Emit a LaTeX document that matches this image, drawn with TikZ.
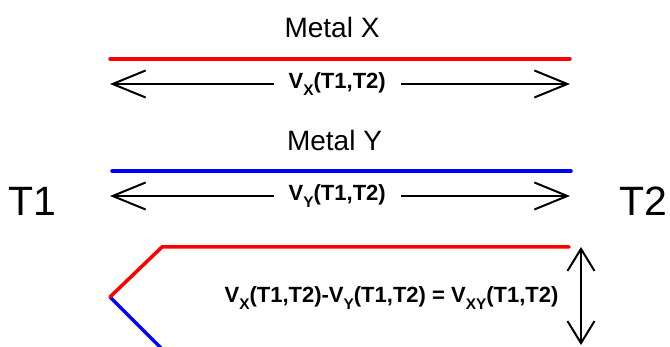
\documentclass[tikz,border=0pt]{standalone}
\usepackage{fontspec}
\setmainfont{Liberation Sans}
\usetikzlibrary{arrows.meta}
\newcommand{\sbx}[1]{\raisebox{-0.28em}{\scalebox{0.7}{#1}}}
\begin{document}
\begin{tikzpicture}[x=1pt,y=-1pt,
  wire/.style={line width=3.5pt,line cap=round},
  dim/.style={line width=2pt,{Straight Barb[length=33pt,width=27pt]}-{Straight Barb[length=33pt,width=27pt]}},
  vdim/.style={line width=2pt,{Straight Barb[length=22pt,width=27pt]}-{Straight Barb[length=22pt,width=27pt]}},
  lab/.style={font=\fontsize{22}{26}\selectfont\bfseries,fill=white,inner xsep=15pt,inner ysep=2pt},
  formula/.style={font=\fontsize{22}{26}\selectfont\bfseries,inner sep=0pt},
  title/.style={font=\fontsize{28}{32}\selectfont,inner sep=0pt},
  temp/.style={font=\fontsize{41}{48}\selectfont,inner sep=0pt}]
\useasboundingbox (0,0) rectangle (670,347);
\clip (0,0) rectangle (670,347);
% Metal X
\node[title] (mx) at (332,27) {Metal X};
\coordinate (rxl) at (110,59);
\coordinate (rxr) at (570,59);
\draw[wire,red] (rxl) -- (rxr);
\coordinate (axl) at (110,84);
\coordinate (axr) at (570,84);
\draw[dim] (axl) -- node[lab,pos=0.494] (lx) {V\sbx{X}(T1,T2)} (axr);
% Metal Y
\node[title] (my) at (334.5,140) {Metal Y};
\coordinate (byl) at (112,171);
\coordinate (byr) at (571,171);
\draw[wire,blue] (byl) -- (byr);
\coordinate (ayl) at (110,196);
\coordinate (ayr) at (570,196);
\draw[dim] (ayl) -- node[lab,pos=0.494] (ly) {V\sbx{Y}(T1,T2)} (ayr);
% temperatures
\node[temp] (t1) at (32,201) {T1};
\node[temp] (t2) at (643,201) {T2};
% junction
\coordinate (v) at (110,297);
\coordinate (c) at (162,247);
\coordinate (re) at (569,247);
\coordinate (be) at (164,351);
\draw[wire,blue] (v) -- (be);
\draw[wire,red,line join=miter] (v) -- (c) -- (re);
\coordinate (vt) at (581,247);
\coordinate (vb) at (581,345);
\draw[vdim] (vt) -- (vb);
\node[formula] (f) at (391.5,298) {V\sbx{X}(T1,T2)-V\sbx{Y}(T1,T2) = V\sbx{XY}(T1,T2)};
\end{tikzpicture}
\end{document}
